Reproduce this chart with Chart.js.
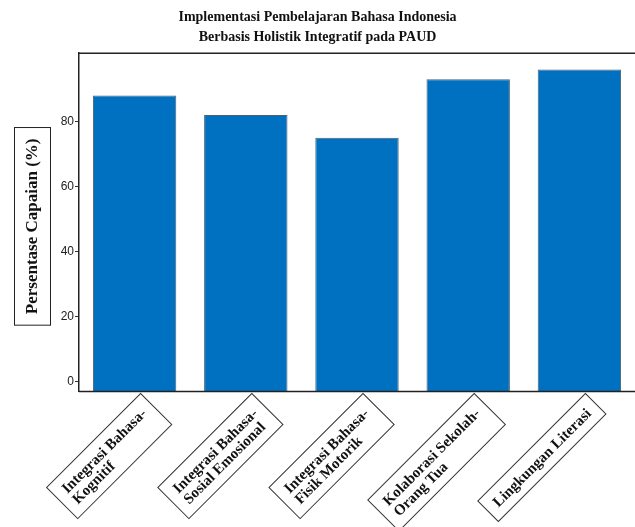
<!DOCTYPE html>
<html>
<head>
<meta charset="utf-8">
<script src="https://cdn.jsdelivr.net/npm/chart.js@4.4.1/dist/chart.umd.min.js"></script>
<style>
  html, body { margin: 0; padding: 0; background: #fff; }
  #wrap { width: 635px; height: 527px; position: relative; }
</style>
</head>
<body>
<div id="wrap"><canvas id="chart"></canvas></div>
<script>
const categories = [
  ["Integrasi Bahasa-", "Kognitif"],
  ["Integrasi Bahasa-", "Sosial Emosional"],
  ["Integrasi Bahasa-", "Fisik Motorik"],
  ["Kolaborasi Sekolah-", "Orang Tua"],
  ["Lingkungan Literasi"]
];
const capaian = [88, 82, 75, 93, 96];
const yTicks = [0, 20, 40, 60, 80];
const yMin = -3;
const yMax = 101;

const titleLines = [
  "Implementasi Pembelajaran Bahasa Indonesia",
  "Berbasis Holistik Integratif pada PAUD"
];
const yTitle = "Persentase Capaian (%)";

const SERIF = "'Liberation Serif', 'Times New Roman', serif";

// frame lines, boxed axis title and boxed rotated category labels
const decorations = {
  id: "decorations",
  afterDraw(chart) {
    const ctx = chart.ctx;
    const area = chart.chartArea;
    const xScale = chart.scales.x;

    ctx.save();
    ctx.strokeStyle = "#222";
    ctx.lineWidth = 1.5;
    ctx.beginPath();
    ctx.moveTo(area.left, area.top);
    ctx.lineTo(area.right, area.top);
    ctx.moveTo(area.left, area.bottom);
    ctx.lineTo(area.right, area.bottom);
    ctx.stroke();

    // y axis title in a box
    ctx.font = "bold 17px " + SERIF;
    const tw = ctx.measureText(yTitle).width;
    const cy = (area.top + area.bottom) / 2 + 4;
    ctx.lineWidth = 1;
    ctx.strokeRect(14.5, cy - tw / 2 - 11, 36, tw + 22);
    ctx.translate(32, cy);
    ctx.rotate(-Math.PI / 2);
    ctx.fillStyle = "#111";
    ctx.textAlign = "center";
    ctx.textBaseline = "middle";
    ctx.fillText(yTitle, 0, 1);
    ctx.restore();

    // category labels
    ctx.save();
    ctx.font = "bold 15px " + SERIF;
    ctx.strokeStyle = "#333";
    ctx.fillStyle = "#111";
    ctx.lineWidth = 1;
    const lh = 15, padX = 10, padY = 7;
    categories.forEach((lines, i) => {
      const x = xScale.getPixelForValue(i) + 6;
      const y = area.bottom + 2;
      const w = Math.max(...lines.map(l => ctx.measureText(l).width)) + padX * 2;
      const h = lines.length * lh + padY * 2;
      ctx.save();
      ctx.translate(x, y);
      ctx.rotate(-Math.PI / 4);
      ctx.strokeRect(-w, 0, w, h);
      ctx.textAlign = "left";
      ctx.textBaseline = "middle";
      lines.forEach((l, j) => {
        ctx.fillText(l, -w + padX, padY + lh * j + lh / 2 + 1);
      });
      ctx.restore();
    });
    ctx.restore();
  }
};

new Chart(document.getElementById("chart"), {
  type: "bar",
  data: {
    labels: categories,
    datasets: [{
      data: capaian,
      base: yMin,
      backgroundColor: "#0070C0",
      borderColor: "#4a5f73",
      borderWidth: 1,
      barPercentage: 0.75,
      categoryPercentage: 1
    }]
  },
  options: {
    responsive: true,
    maintainAspectRatio: false,
    animation: false,
    layout: { padding: { top: 0, right: 0, bottom: 135.5, left: 0 } },
    plugins: {
      legend: { display: false },
      tooltip: { enabled: false },
      title: {
        display: true,
        text: titleLines,
        color: "#111",
        font: { family: SERIF, size: 14, weight: "bold", lineHeight: 1.4 },
        padding: { top: 8, bottom: 6 }
      }
    },
    scales: {
      x: {
        display: false
      },
      y: {
        min: yMin,
        max: yMax,
        afterBuildTicks: s => { s.ticks = yTicks.map(v => ({ value: v })); },
        afterFit: s => { s.width = 79; },
        border: { display: true, color: "#222", width: 1.5 },
        grid: {
          drawOnChartArea: false,
          drawTicks: true,
          tickLength: 4,
          tickColor: "#333",
          tickWidth: 1
        },
        ticks: {
          color: "#222",
          padding: 1,
          font: { family: "'Liberation Sans', Arial, sans-serif", size: 12 }
        }
      }
    }
  },
  plugins: [decorations]
});
</script>
</body>
</html>
